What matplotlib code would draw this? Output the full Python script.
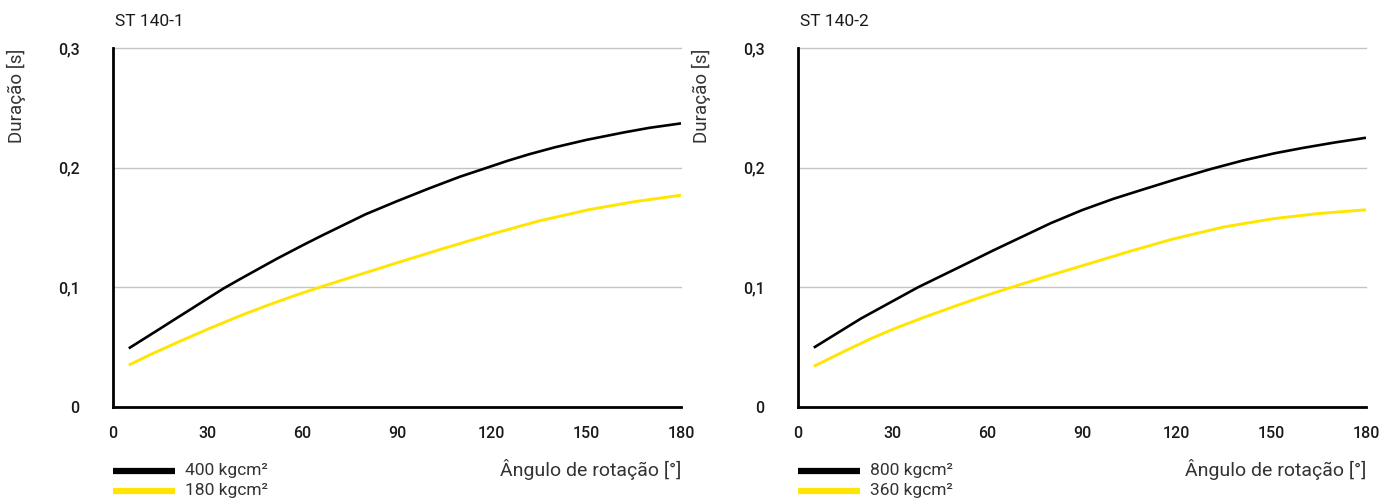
import matplotlib
matplotlib.use("Agg")
import matplotlib.pyplot as plt
from matplotlib import font_manager as fm
from matplotlib.lines import Line2D

names = {f.name for f in fm.fontManager.ttflist}
FONT = "Roboto" if "Roboto" in names else "DejaVu Sans"

# ---- data ----
x_ticks = [0, 30, 60, 90, 120, 150, 180]
y_ticks = [0, 0.1, 0.2, 0.3]
y_tick_labels = ["0", "0,1", "0,2", "0,3"]

titles = ["ST 140-1", "ST 140-2"]
labels_1 = ["400 kgcm²", "180 kgcm²"]
labels_2 = ["800 kgcm²", "360 kgcm²"]
x_label = "Ângulo de rotação [°]"
y_label = "Duração [s]"

st1_black_x = [5, 10, 15, 20, 25, 30, 35, 40, 45, 52, 60, 66, 73, 80, 90, 100, 110,
               118, 125, 132, 140, 150, 162, 170, 180]
st1_black_y = [0.049, 0.0573, 0.0656, 0.074, 0.0823, 0.0907, 0.099, 0.1065, 0.1138,
               0.124, 0.135, 0.143, 0.152, 0.161, 0.172, 0.1825, 0.1925, 0.1995,
               0.2057, 0.2113, 0.2170, 0.2232, 0.2295, 0.2333, 0.2370]
st1_yellow_x = [5, 12, 20, 30, 41, 50, 58, 66, 75, 90, 105, 120, 135, 151, 165, 180]
st1_yellow_y = [0.035, 0.044, 0.0535, 0.065, 0.077, 0.086, 0.0935, 0.1005, 0.108,
                0.1205, 0.1327, 0.1445, 0.1555, 0.1650, 0.1715, 0.177]

st2_black_x = [5, 12, 20, 29, 38, 45, 52, 62, 70, 80, 90, 100, 109, 120, 131, 141,
               151, 160, 170, 180]
st2_black_y = [0.0496, 0.061, 0.074, 0.087, 0.100, 0.109, 0.118, 0.131, 0.141, 0.1535,
               0.1645, 0.1740, 0.1815, 0.1905, 0.1990, 0.2060, 0.2120, 0.2165, 0.2210,
               0.2250]
st2_yellow_x = [5, 15, 23, 31, 40, 50, 58, 67, 78, 90, 105, 119, 135, 151, 165, 180]
st2_yellow_y = [0.034, 0.047, 0.057, 0.066, 0.075, 0.0845, 0.0918, 0.0995, 0.1085,
                0.118, 0.130, 0.1405, 0.1505, 0.1575, 0.1617, 0.1648]

BLACK = "#000000"
YELLOW = "#FFE500"
TEXT = "#1a1a1a"

W, H = 1396, 501
fig = plt.figure(figsize=(W / 100, H / 100), dpi=100)

panels = [
    (113, titles[0], labels_1, (st1_black_x, st1_black_y), (st1_yellow_x, st1_yellow_y)),
    (798, titles[1], labels_2, (st2_black_x, st2_black_y), (st2_yellow_x, st2_yellow_y)),
]

for left_px, title, labs, blk, yel in panels:
    ax = fig.add_axes([left_px / W, 1 - 407 / H, 568 / W, 359 / H])
    ax.set_xlim(0, 180)
    ax.set_ylim(0, 0.3)
    for s in ["top", "right"]:
        ax.spines[s].set_visible(False)
    for s in ["left", "bottom"]:
        ax.spines[s].set_linewidth(2.0)
        ax.spines[s].set_color("black")
    for yv in y_ticks[1:]:
        ax.axhline(yv, color="#c4c4c4", lw=1.0, zorder=0, clip_on=False)
    ax.plot(*blk, color=BLACK, lw=1.9, solid_capstyle="butt", solid_joinstyle="round")
    ax.plot(*yel, color=YELLOW, lw=2.1, solid_capstyle="butt", solid_joinstyle="round")
    ax.set_xticks(x_ticks)
    ax.set_xticklabels([str(v) for v in x_ticks], family=FONT, fontweight="medium",
                       fontsize=11.5, color=TEXT)
    ax.set_yticks(y_ticks)
    ax.set_yticklabels(y_tick_labels, family=FONT, fontweight="medium",
                       fontsize=11.5, color=TEXT)
    ax.tick_params(length=0)
    ax.tick_params(axis="x", pad=14)
    ax.tick_params(axis="y", pad=24)

    fig.text((left_px + 2) / W, 1 - 22 / H, title, family=FONT, fontsize=12.5,
             ha="left", va="center", color=TEXT)
    fig.text((left_px - 97) / W, 1 - 96 / H, y_label, family=FONT,
             fontsize=13.5, rotation=90, ha="center", va="center", color="#333333")
    fig.text((left_px + 568) / W, 1 - 470 / H, x_label, family=FONT,
             fontsize=14, ha="right", va="center", color="#333333")

    for i, (lab, col) in enumerate(zip(labs, [BLACK, YELLOW])):
        yy = 1 - (471 + 20 * i) / H
        fig.add_artist(Line2D([(left_px) / W, (left_px + 62) / W], [yy, yy],
                              color=col, lw=4.5, solid_capstyle="butt"))
        fig.text((left_px + 72) / W, yy, lab, family=FONT,
                 fontsize=12.5, ha="left", va="center", color="#333333")

fig.savefig("out.png", dpi=100)
